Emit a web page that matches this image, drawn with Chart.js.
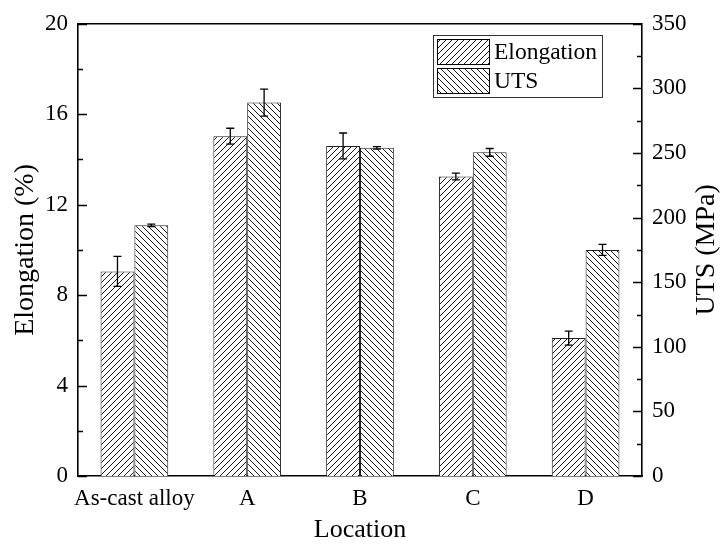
<!DOCTYPE html>
<html>
<head>
<meta charset="utf-8">
<script src="https://cdn.jsdelivr.net/npm/chart.js@4"></script>
<style>
  html, body { margin: 0; padding: 0; background: #fff; }
  #wrap { width: 722px; height: 547px; }
</style>
</head>
<body>
<div id="wrap"><canvas id="myChart" width="722" height="547"></canvas></div>
<script>
// Data
const locations = ['As-cast alloy', 'A', 'B', 'C', 'D']
const elongation = [9.05, 15.03, 14.6, 13.25, 6.1]
const elongationErr = [0.66, 0.35, 0.57, 0.15, 0.31]
const uts = [194, 289, 254, 250.5, 175]
const utsErr = [1, 10.4, 1, 3, 4.3]

const FONT = "'Liberation Serif', 'Times New Roman', serif"

// hatch tiles
function hatch(dir) {
    const size = 6
    const c = document.createElement('canvas')
    c.width = size
    c.height = size
    const ctx = c.getContext('2d')
    ctx.fillStyle = '#fff'
    ctx.fillRect(0, 0, size, size)
    ctx.strokeStyle = '#000'
    ctx.lineWidth = 0.9
    ctx.beginPath()
    if (dir == 'fwd') {
        ctx.moveTo(-1, size + 1); ctx.lineTo(size + 1, -1)
        ctx.moveTo(-1, 1); ctx.lineTo(1, -1)
        ctx.moveTo(size - 1, size + 1); ctx.lineTo(size + 1, size - 1)
    } else {
        ctx.moveTo(-1, -1); ctx.lineTo(size + 1, size + 1)
        ctx.moveTo(-1, size - 1); ctx.lineTo(1, size + 1)
        ctx.moveTo(size - 1, -1); ctx.lineTo(size + 1, 1)
    }
    ctx.stroke()
    return ctx.createPattern(c, 'repeat')
}

const errors = [elongationErr, utsErr]

// error bars
const errorBars = {
    id: 'errorBars',
    afterDatasetsDraw(chart) {
        const ctx = chart.ctx
        ctx.save()
        ctx.strokeStyle = '#000'
        ctx.lineWidth = 1.3
        chart.data.datasets.forEach((ds, i) => {
            const meta = chart.getDatasetMeta(i)
            const scale = chart.scales[ds.yAxisID]
            meta.data.forEach((bar, j) => {
                const v = ds.data[j], e = errors[i][j]
                const yt = scale.getPixelForValue(v + e)
                const yb = scale.getPixelForValue(v - e)
                ctx.beginPath()
                ctx.moveTo(bar.x, yt); ctx.lineTo(bar.x, yb)
                ctx.moveTo(bar.x - 4, yt); ctx.lineTo(bar.x + 4, yt)
                ctx.moveTo(bar.x - 4, yb); ctx.lineTo(bar.x + 4, yb)
                ctx.stroke()
            })
        })
        ctx.restore()
    }
}

// frame, inward ticks, right axis title (reads bottom to top)
const frame = {
    id: 'frame',
    afterDraw(chart) {
        const ctx = chart.ctx
        const a = chart.chartArea
        const y = chart.scales.y, y1 = chart.scales.y1
        ctx.save()
        ctx.strokeStyle = '#000'
        ctx.lineWidth = 1.5
        ctx.beginPath()
        ctx.moveTo(a.left, a.top); ctx.lineTo(a.right, a.top)
        ctx.stroke()
        ctx.lineWidth = 1.3
        ctx.beginPath()
        for (let v = 0; v <= 20; v += 2) {
            const p = Math.round(y.getPixelForValue(v)) + 0.5
            ctx.moveTo(a.left, p); ctx.lineTo(a.left + (v % 4 == 0 ? 9 : 5), p)
        }
        for (let v = 0; v <= 350; v += 25) {
            const p = Math.round(y1.getPixelForValue(v)) + 0.5
            ctx.moveTo(a.right, p); ctx.lineTo(a.right - (v % 50 == 0 ? 9 : 5), p)
        }
        ctx.stroke()

        ctx.translate(707, (a.top + a.bottom) / 2)
        ctx.rotate(-Math.PI / 2)
        ctx.fillStyle = '#000'
        ctx.font = '28px ' + FONT
        ctx.textAlign = 'center'
        ctx.textBaseline = 'middle'
        ctx.fillText('UTS (MPa)', 0, 0)
        ctx.restore()
    }
}

// legend box in the top right of the plot
const boxLegend = {
    id: 'boxLegend',
    afterDraw(chart) {
        const ctx = chart.ctx
        const x = 433, yy = 35, w = 169, h = 62
        ctx.save()
        ctx.fillStyle = '#fff'
        ctx.fillRect(x, yy, w, h)
        ctx.strokeStyle = '#333'
        ctx.lineWidth = 1
        ctx.strokeRect(x + 0.5, yy + 0.5, w, h)
        ctx.font = '23.5px ' + FONT
        ctx.textBaseline = 'middle'
        chart.data.datasets.forEach((ds, i) => {
            const sy = yy + 4 + i * 29
            ctx.fillStyle = ds.backgroundColor
            ctx.fillRect(x + 4, sy, 52, 25)
            ctx.strokeStyle = '#000'
            ctx.strokeRect(x + 4.5, sy + 0.5, 52, 25)
            ctx.fillStyle = '#000'
            ctx.fillText(ds.label, x + 61, sy + 14)
        })
        ctx.restore()
    }
}

const canvas = document.getElementById('myChart')

var data = {
    labels: locations,
    datasets: [
        {
            label: 'Elongation',
            data: elongation,
            yAxisID: 'y',
            backgroundColor: hatch('fwd'),
            borderColor: '#222',
            borderWidth: 1,
            categoryPercentage: 0.6,
            barPercentage: 1
        },
        {
            label: 'UTS',
            data: uts,
            yAxisID: 'y1',
            backgroundColor: hatch('back'),
            borderColor: '#222',
            borderWidth: 1,
            categoryPercentage: 0.6,
            barPercentage: 1
        }
    ]
}

var options = {
    responsive: false,
    animation: false,
    layout: { padding: { top: 21, left: 0, right: 0, bottom: 0 } },
    plugins: { legend: { display: false }, tooltip: { enabled: false } },
    scales: {
        x: {
            grid: { display: false, drawTicks: false },
            border: { display: true, color: '#000', width: 1.6 },
            ticks: { color: '#000', padding: 9, autoSkip: false, maxRotation: 0, font: { family: FONT, size: 23 } },
            title: { display: true, text: 'Location', color: '#000', padding: { top: 0, bottom: 1 }, font: { family: FONT, size: 26 } },
            afterFit(scale) { scale.height = 71 }
        },
        y: {
            position: 'left',
            min: 0, max: 20,
            grid: { display: false, drawTicks: false },
            border: { display: true, color: '#000', width: 1.6 },
            ticks: { stepSize: 4, color: '#000', padding: 10, font: { family: FONT, size: 23 } },
            title: { display: true, text: 'Elongation (%)', color: '#000', padding: { top: 9, bottom: 0 }, font: { family: FONT, size: 28 } },
            afterFit(scale) { scale.width = 78 }
        },
        y1: {
            position: 'right',
            min: 0, max: 350,
            grid: { display: false, drawTicks: false },
            border: { display: true, color: '#000', width: 1.6 },
            ticks: { stepSize: 50, color: '#000', padding: 10, font: { family: FONT, size: 23 } },
            afterFit(scale) { scale.width = 80 }
        }
    }
}

var myChart = new Chart(canvas, {
    type: 'bar',
    data: data,
    options: options,
    plugins: [errorBars, frame, boxLegend]
})
</script>
</body>
</html>
